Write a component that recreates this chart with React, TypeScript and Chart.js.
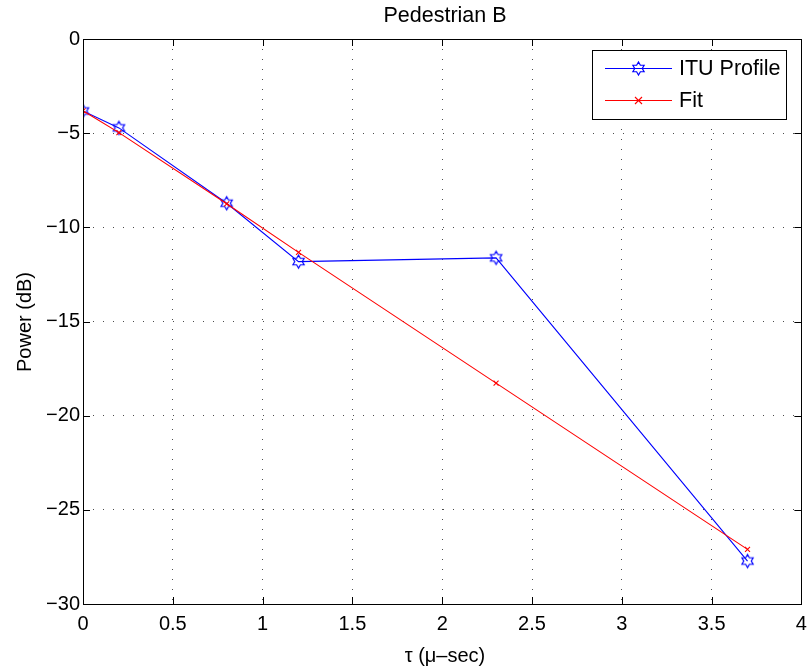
import React, { useEffect, useRef } from "react";
import { Chart, registerables } from "chart.js";

Chart.register(...registerables);

const delays = [0, 0.2, 0.8, 1.2, 2.3, 3.7];
const ituPower = [-3.82, -4.72, -8.72, -11.82, -11.62, -27.72];
const fitPower = [-3.81, -4.97, -8.75, -11.33, -18.27, -27.1];
const xTicksStep = 0.5;
const yTicksStep = 5;
const titleText = "Pedestrian B";
const xLabel = "τ (μ–sec)";
const yLabel = "Power (dB)";
const seriesLabels = ["ITU Profile", "Fit"];

const FONT = "'Liberation Sans', Arial, Helvetica, sans-serif";
const BLUE = "#0000ff";
const RED = "#ff0000";

function drawStar(ctx: CanvasRenderingContext2D, cx: number, cy: number, R: number, color: string) {
  const r = R / Math.sqrt(3);
  ctx.save();
  ctx.beginPath();
  for (let k = 0; k < 12; k++) {
    const a = -Math.PI / 2 + (k * Math.PI) / 6;
    const rr = k % 2 === 0 ? R : r;
    const x = cx + rr * Math.cos(a);
    const y = cy + rr * Math.sin(a);
    if (k === 0) ctx.moveTo(x, y);
    else ctx.lineTo(x, y);
  }
  ctx.closePath();
  ctx.strokeStyle = color;
  ctx.lineWidth = 1.2;
  ctx.stroke();
  ctx.restore();
}

function makeStarCanvas(): HTMLCanvasElement {
  const c = document.createElement("canvas");
  c.width = 17;
  c.height = 17;
  const ctx = c.getContext("2d")!;
  drawStar(ctx, 8.5, 8.5, 6.5, BLUE);
  return c;
}

function drawCross(ctx: CanvasRenderingContext2D, cx: number, cy: number, r: number, color: string) {
  ctx.save();
  ctx.strokeStyle = color;
  ctx.lineWidth = 1.1;
  ctx.beginPath();
  ctx.moveTo(cx - r, cy - r);
  ctx.lineTo(cx + r, cy + r);
  ctx.moveTo(cx + r, cy - r);
  ctx.lineTo(cx - r, cy + r);
  ctx.stroke();
  ctx.restore();
}

const fmt = (v: any) => String(Number(Number(v).toFixed(2))).replace("-", "\u2212");

const decorPlugin = {
  id: "decor",
  afterDatasetsDraw(chart: any) {
    const { ctx, chartArea } = chart;
    const { left, right, top, bottom } = chartArea;
    const xs = chart.scales.x;
    const ys = chart.scales.y;
    ctx.save();
    ctx.strokeStyle = "#000";
    ctx.lineWidth = 1;
    ctx.beginPath();
    const tl = 7;
    xs.ticks.forEach((t: any) => {
      const px = Math.round(xs.getPixelForValue(t.value)) + 0.5;
      ctx.moveTo(px, bottom);
      ctx.lineTo(px, bottom - tl);
      ctx.moveTo(px, top);
      ctx.lineTo(px, top + tl);
    });
    ys.ticks.forEach((t: any) => {
      const py = Math.round(ys.getPixelForValue(t.value)) + 0.5;
      ctx.moveTo(left, py);
      ctx.lineTo(left + tl, py);
      ctx.moveTo(right, py);
      ctx.lineTo(right - tl, py);
    });
    ctx.stroke();
    ctx.strokeRect(Math.round(left) + 0.5, Math.round(top) + 0.5, Math.round(right - left), Math.round(bottom - top));
    ctx.restore();
  },
  afterDraw(chart: any) {
    const { ctx } = chart;
    ctx.save();
    ctx.fillStyle = "#000";
    ctx.textAlign = "center";
    ctx.textBaseline = "alphabetic";
    ctx.font = `21.5px ${FONT}`;
    ctx.fillText(titleText, 445, 22);
    ctx.font = `20px ${FONT}`;
    ctx.fillText(xLabel, 445, 662);
    ctx.save();
    ctx.translate(31, 322);
    ctx.rotate(-Math.PI / 2);
    ctx.fillText(yLabel, 0, 0);
    ctx.restore();

    const lx = 592.5, ly = 50.5, lw = 194, lh = 69;
    ctx.fillStyle = "#fff";
    ctx.fillRect(lx, ly, lw, lh);
    ctx.strokeStyle = "#000";
    ctx.lineWidth = 1;
    ctx.strokeRect(lx, ly, lw, lh);
    const rows = [68.5, 100.5];
    const colors = [BLUE, RED];
    rows.forEach((y, i) => {
      ctx.strokeStyle = colors[i];
      ctx.lineWidth = 1.1;
      ctx.beginPath();
      ctx.moveTo(605, y);
      ctx.lineTo(672, y);
      ctx.stroke();
      if (i === 0) drawStar(ctx, 638.5, y, 6.5, BLUE);
      else drawCross(ctx, 638.5, y, 3.5, RED);
      ctx.fillStyle = "#000";
      ctx.textAlign = "left";
      ctx.textBaseline = "middle";
      ctx.font = `21.5px ${FONT}`;
      ctx.fillText(chart.data.datasets[i === 0 ? 1 : 0].label, 679, y + 1);
    });
    ctx.restore();
  },
};

export default function App() {
  const ref = useRef<HTMLCanvasElement | null>(null);
  useEffect(() => {
    document.body.style.margin = "0";
    const canvas = ref.current!;
    const star = makeStarCanvas();
    const chart = new Chart(canvas, {
      type: "line",
      data: {
        datasets: [
          {
            label: seriesLabels[1],
            data: delays.map((d, i) => ({ x: d, y: fitPower[i] })),
            borderColor: RED,
            backgroundColor: RED,
            borderWidth: 1.1,
            pointStyle: "crossRot",
            pointRadius: 3.5,
            pointBorderColor: RED,
            pointBorderWidth: 1.1,
            fill: false,
            tension: 0,
            order: 0,
          },
          {
            label: seriesLabels[0],
            data: delays.map((d, i) => ({ x: d, y: ituPower[i] })),
            borderColor: BLUE,
            backgroundColor: BLUE,
            borderWidth: 1.1,
            pointStyle: star as any,
            pointRadius: 6.5,
            fill: false,
            tension: 0,
            order: 1,
          },
        ],
      },
      options: {
        responsive: false,
        devicePixelRatio: 1,
        animation: false,
        layout: { padding: { left: 0, right: 7, top: 39, bottom: 0 } },
        plugins: {
          legend: { display: false },
          title: { display: false },
          tooltip: { enabled: false },
        },
        scales: {
          x: {
            type: "linear",
            min: 0,
            max: 4,
            ticks: {
              stepSize: xTicksStep,
              color: "#000",
              font: { family: FONT, size: 20 },
              padding: 8,
              maxRotation: 0,
              callback: fmt,
            },
            grid: { color: "rgba(0,0,0,0.7)", lineWidth: 1, drawTicks: false },
            border: { display: false, dash: [1, 9] },
            afterFit: (s: any) => {
              s.height = 67;
              s.paddingRight = 0;
              s.paddingLeft = 0;
            },
          },
          y: {
            type: "linear",
            min: -30,
            max: 0,
            ticks: {
              stepSize: yTicksStep,
              color: "#000",
              font: { family: FONT, size: 20 },
              padding: 3,
              callback: fmt,
            },
            grid: { color: "rgba(0,0,0,0.7)", lineWidth: 1, drawTicks: false },
            border: { display: false, dash: [1, 9] },
            afterFit: (s: any) => {
              s.width = 83;
              s.paddingTop = 0;
              s.paddingBottom = 0;
            },
          },
        },
      },
      plugins: [decorPlugin],
    });
    return () => chart.destroy();
  }, []);
  return <canvas ref={ref} width={809} height={671} style={{ display: "block" }} />;
}
